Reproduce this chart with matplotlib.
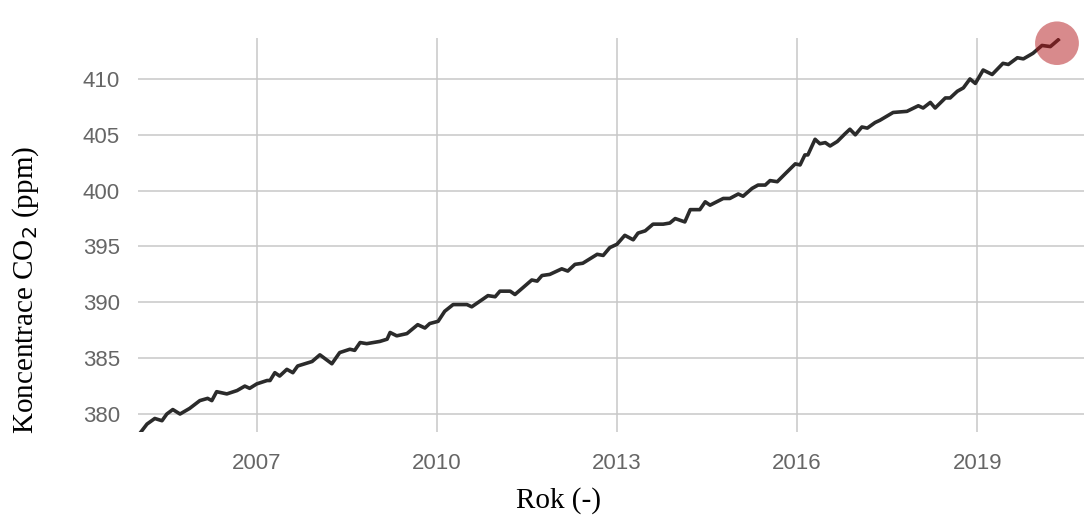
"""
Koncentrace CO2 v atmosfere, 2005-2020
"""

import matplotlib.pyplot as plt
from matplotlib.patches import Ellipse

# Data (decimal year, ppm)
years = [2005.07, 2005.17, 2005.30, 2005.42, 2005.50, 2005.60, 2005.72, 2005.88,
         2006.05, 2006.18, 2006.25, 2006.33, 2006.50, 2006.67, 2006.80, 2006.88,
         2007.00, 2007.17, 2007.22, 2007.30, 2007.38, 2007.50, 2007.60, 2007.68,
         2007.92, 2008.05, 2008.25, 2008.38, 2008.55, 2008.63, 2008.72, 2008.83,
         2009.05, 2009.17, 2009.22, 2009.33, 2009.50, 2009.68, 2009.80, 2009.88,
         2010.02, 2010.13, 2010.27, 2010.50, 2010.58, 2010.77, 2010.85, 2010.97,
         2011.05, 2011.22, 2011.30, 2011.43, 2011.58, 2011.67, 2011.75, 2011.88,
         2012.08, 2012.18, 2012.30, 2012.43, 2012.67, 2012.77, 2012.88, 2013.00,
         2013.13, 2013.27, 2013.35, 2013.47, 2013.60, 2013.77, 2013.88, 2013.97,
         2014.13, 2014.22, 2014.38, 2014.47, 2014.55, 2014.77, 2014.88, 2015.02,
         2015.10, 2015.25, 2015.35, 2015.47, 2015.55, 2015.67, 2015.80, 2015.97,
         2016.05, 2016.13, 2016.18, 2016.30, 2016.38, 2016.47, 2016.55, 2016.67,
         2016.80, 2016.88, 2016.97, 2017.08, 2017.17, 2017.30, 2017.38, 2017.60,
         2017.83, 2018.02, 2018.10, 2018.22, 2018.30, 2018.47, 2018.55, 2018.67,
         2018.77, 2018.88, 2018.97, 2019.10, 2019.25, 2019.43, 2019.52, 2019.67,
         2019.77, 2019.93, 2020.08, 2020.22, 2020.35]
co2_ppm = [378.4, 379.1, 379.6, 379.4, 380.0, 380.4, 380.0, 380.5,
           381.2, 381.4, 381.2, 382.0, 381.8, 382.1, 382.5, 382.3,
           382.7, 383.0, 383.0, 383.7, 383.4, 384.0, 383.7, 384.3,
           384.7, 385.3, 384.5, 385.5, 385.8, 385.7, 386.4, 386.3,
           386.5, 386.7, 387.3, 387.0, 387.2, 388.0, 387.7, 388.1,
           388.3, 389.2, 389.8, 389.8, 389.6, 390.3, 390.6, 390.5,
           391.0, 391.0, 390.7, 391.3, 392.0, 391.9, 392.4, 392.5,
           393.0, 392.8, 393.4, 393.5, 394.3, 394.2, 394.9, 395.2,
           396.0, 395.6, 396.2, 396.4, 397.0, 397.0, 397.1, 397.5,
           397.2, 398.3, 398.3, 399.0, 398.7, 399.3, 399.3, 399.7,
           399.5, 400.2, 400.5, 400.5, 400.9, 400.8, 401.5, 402.4,
           402.3, 403.2, 403.2, 404.6, 404.2, 404.3, 404.0, 404.4,
           405.1, 405.5, 405.0, 405.7, 405.6, 406.1, 406.3, 407.0,
           407.1, 407.6, 407.4, 407.9, 407.4, 408.3, 408.3, 408.9,
           409.2, 410.0, 409.6, 410.8, 410.4, 411.4, 411.3, 411.9,
           411.8, 412.3, 413.0, 412.9, 413.5]

x_ticks = [2007, 2010, 2013, 2016, 2019]
y_ticks = [380, 385, 390, 395, 400, 405, 410]

fig = plt.figure(figsize=(10.84, 5.16), dpi=100)
ax = fig.add_axes([0.1273, 0.1628, 0.8727, 0.7636])

ax.plot(years, co2_ppm, color='#2b2b2b', linewidth=2.6, solid_joinstyle='round', zorder=3)

# highlighted last value
ax.add_patch(Ellipse((years[-1] - 0.02, co2_ppm[-1] - 0.3), width=0.73, height=3.9,
                     color='#b3171b', alpha=0.5, linewidth=0, zorder=4, clip_on=False))

ax.set_xlim(2005.02, 2020.78)
ax.set_ylim(378.39, 413.67)
ax.set_xticks(x_ticks)
ax.set_yticks(y_ticks)
ax.grid(True, color='#c8c8c8', linewidth=1.1)
ax.set_axisbelow(True)
for s in ax.spines.values():
    s.set_visible(False)
ax.tick_params(axis='both', length=0, labelsize=16, labelcolor='#666666',
               labelfontfamily='Liberation Sans')
ax.tick_params(axis='x', pad=15)
ax.tick_params(axis='y', pad=13)

ax.set_xlabel('Rok (-)', fontsize=21, family='Liberation Serif')
ax.set_ylabel('Koncentrace CO$_2$ (ppm)', fontsize=21, family='Liberation Serif')
ax.xaxis.set_label_coords(0.445, -0.14)
ax.yaxis.set_label_coords(-0.103, 0.36)

plt.savefig('out.png', dpi=100)
